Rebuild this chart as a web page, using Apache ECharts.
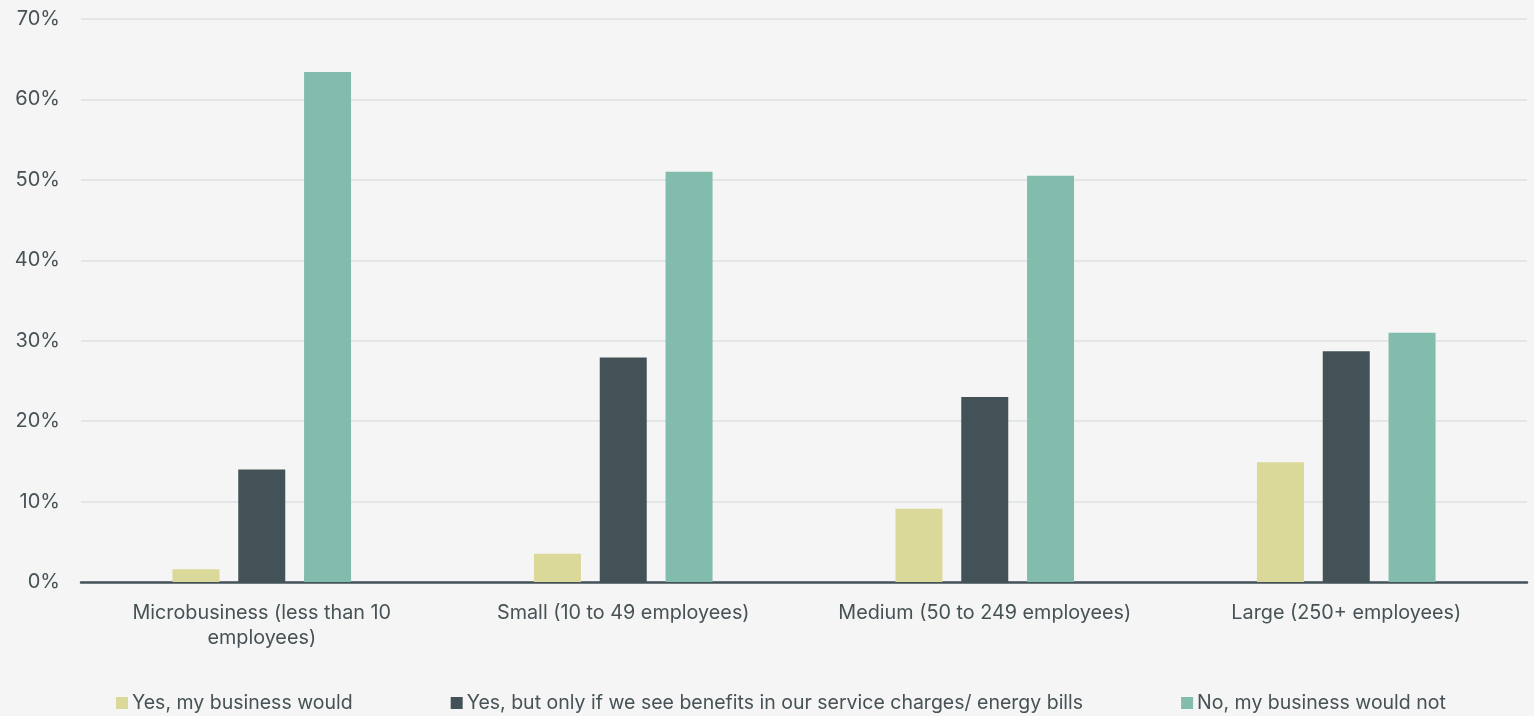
<!DOCTYPE html>
<html>
<head>
<meta charset="utf-8">
<style>
  html, body { margin: 0; padding: 0; background: #f5f5f5; }
  #chart { width: 1534px; height: 716px; }
</style>
<script src="https://cdn.jsdelivr.net/npm/echarts@6/dist/echarts.min.js"></script>
</head>
<body>
<div id="chart"></div>
<script>
// Business size categories
const categories = [
  'Microbusiness (less than 10\nemployees)',
  'Small (10 to 49 employees)',
  'Medium (50 to 249 employees)',
  'Large (250+ employees)'
];

// Share of respondents (%) per answer
const yesWould = [1.6, 3.5, 9.1, 14.9];
const yesIfBenefits = [14.0, 27.9, 23.0, 28.7];
const noWouldNot = [63.4, 51.0, 50.5, 31.0];

const seriesNames = [
  'Yes, my business would',
  'Yes, but only if we see benefits in our service charges/ energy bills',
  'No, my business would not'
];

const yTicks = [0, 10, 20, 30, 40, 50, 60, 70];

const textColor = '#465255';
const fontFamily = 'Inter, Roboto, "Noto Sans", sans-serif';

const chart = echarts.init(document.getElementById('chart'));

chart.setOption({
  backgroundColor: '#f5f5f5',
  color: ['#dbd99a', '#425256', '#82bcad'],
  textStyle: { fontFamily: fontFamily, color: textColor },
  grid: { left: 81, right: 7, top: 19, bottom: 134 },
  legend: {
    left: 111,
    bottom: -2,
    itemWidth: 12,
    itemHeight: 12,
    itemGap: 98,
    icon: 'rect',
    textStyle: { fontSize: 19.5, color: textColor, fontFamily: fontFamily, padding: [0, 0, 0, -1] },
    data: seriesNames
  },
  xAxis: {
    type: 'category',
    data: categories,
    axisLine: { lineStyle: { color: '#44535a', width: 2.5 } },
    axisTick: { show: false },
    axisLabel: {
      fontSize: 19.8,
      color: textColor,
      lineHeight: 25,
      margin: 19,
      interval: 0
    }
  },
  yAxis: {
    type: 'value',
    min: yTicks[0],
    max: yTicks[yTicks.length - 1],
    interval: 10,
    axisLine: { show: false },
    axisTick: { show: false },
    splitLine: { lineStyle: { color: '#dce1e1', width: 1.5 } },
    axisLabel: {
      fontSize: 20,
      color: textColor,
      margin: 21,
      formatter: v => v + '%'
    }
  },
  series: [
    { name: seriesNames[0], type: 'bar', data: yesWould, barWidth: 47, barGap: '40%' },
    { name: seriesNames[1], type: 'bar', data: yesIfBenefits, barWidth: 47, barGap: '40%' },
    { name: seriesNames[2], type: 'bar', data: noWouldNot, barWidth: 47, barGap: '40%' }
  ]
});
</script>
</body>
</html>
